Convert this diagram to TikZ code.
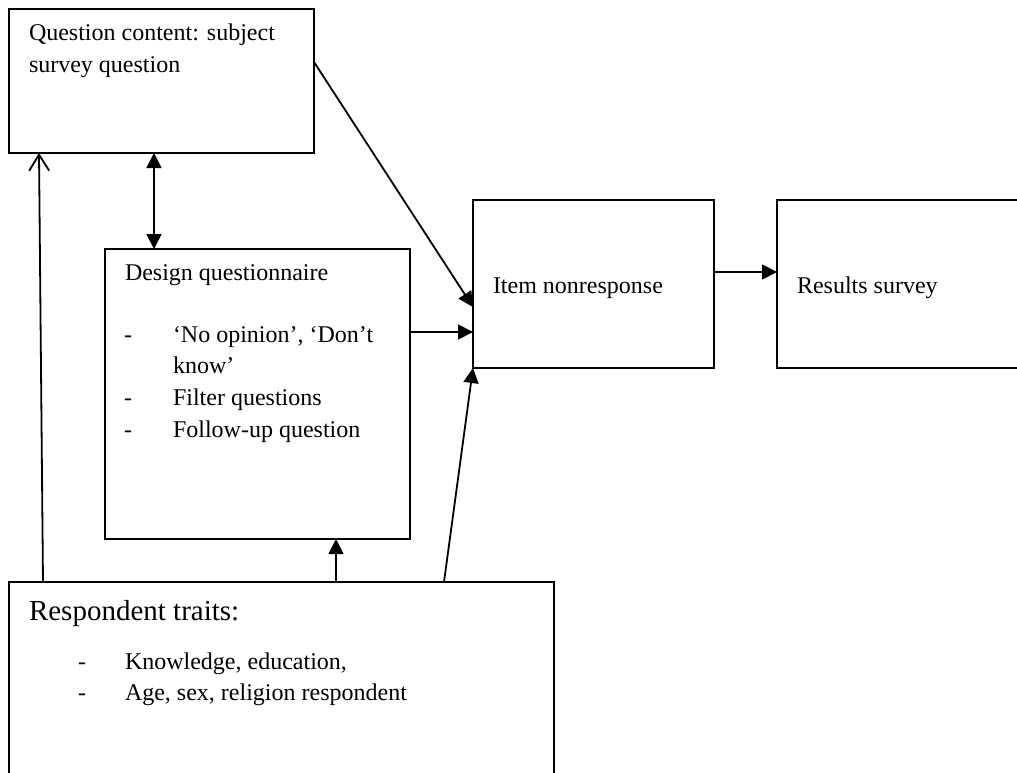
\documentclass[tikz,border=0pt]{standalone}
\usepackage{fontspec}
\setmainfont{Liberation Serif}
\usetikzlibrary{arrows.meta}
\begin{document}
\begin{tikzpicture}[x=1pt,y=-1pt,
  box/.style={draw, line width=1.8pt, inner sep=0pt, outer sep=0pt, anchor=north west},
  txt/.style={anchor=base west, inner sep=0pt, outer sep=0pt, font=\fontsize{24}{31}\selectfont},
  bigtxt/.style={anchor=base west, inner sep=0pt, outer sep=0pt, font=\fontsize{29}{35}\selectfont},
  arr/.style={line width=1.8pt, -{Triangle[length=15pt,width=15pt]}},
  dblarr/.style={line width=1.8pt, {Triangle[length=15pt,width=15pt]}-{Triangle[length=15pt,width=15pt]}},
  openarr/.style={line width=1.8pt, -{Straight Barb[length=16pt,width=20pt]}}]
\useasboundingbox (0,0) rectangle (1017,773);
\clip (0,0) rectangle (1017,773);
\fill[white] (0,0) rectangle (1017,773);

% boxes
\node[box, minimum width=305pt, minimum height=144pt] (q) at (9,9) {};
\node[box, minimum width=305pt, minimum height=290pt] (d) at (105,249) {};
\node[box, minimum width=241pt, minimum height=168pt] (item) at (473,200) {};
\node[box, minimum width=260pt, minimum height=168pt] (res) at (777,200) {};
\node[box, minimum width=545pt, minimum height=230pt] (resp) at (9,582) {};

% texts
\node[txt] (q1) at (29,41) {Question content: subject};
\node[txt] (q2) at (29,73) {survey question};

\node[txt] (d0) at (125,280) {Design questionnaire};
\node[txt] (d1a) at (124,342) {-};
\node[txt] (d1) at (173,342) {‘No opinion’, ‘Don’t};
\node[txt] (d1b) at (173,373) {know’};
\node[txt] (d2a) at (124,405) {-};
\node[txt] (d2) at (173,405) {Filter questions};
\node[txt] (d3a) at (124,437) {-};
\node[txt] (d3) at (173,437) {Follow-up question};

\node[txt] (it) at (493,293) {Item nonresponse};
\node[txt] (rs) at (797,293) {Results survey};

\node[bigtxt] (r0) at (29,620) {Respondent traits:};
\node[txt] (r1a) at (78,669) {-};
\node[txt] (r1) at (125,669) {Knowledge, education,};
\node[txt] (r2a) at (78,700) {-};
\node[txt] (r2) at (125,700) {Age, sex, religion respondent};

% connectors
\draw[openarr] ([xshift=34pt]resp.north west) -- ([xshift=30pt]q.south west);
\draw[dblarr] ([xshift=145pt]q.south west) -- ([xshift=49pt]d.north west);
\draw[arr] ([yshift=-53pt]q.north east) -- ([yshift=-107pt]item.north west);
\draw[arr] ([yshift=-83pt]d.north east) -- ([yshift=-132pt]item.north west);
\draw[arr] ([xshift=327pt]resp.north west) -- ([xshift=231pt]d.south west);
\draw[arr] ([xshift=435pt]resp.north west) -- (item.south west);
\draw[arr] ([yshift=-72pt]item.north east) -- ([yshift=-72pt]res.north west);
\end{tikzpicture}
\end{document}
